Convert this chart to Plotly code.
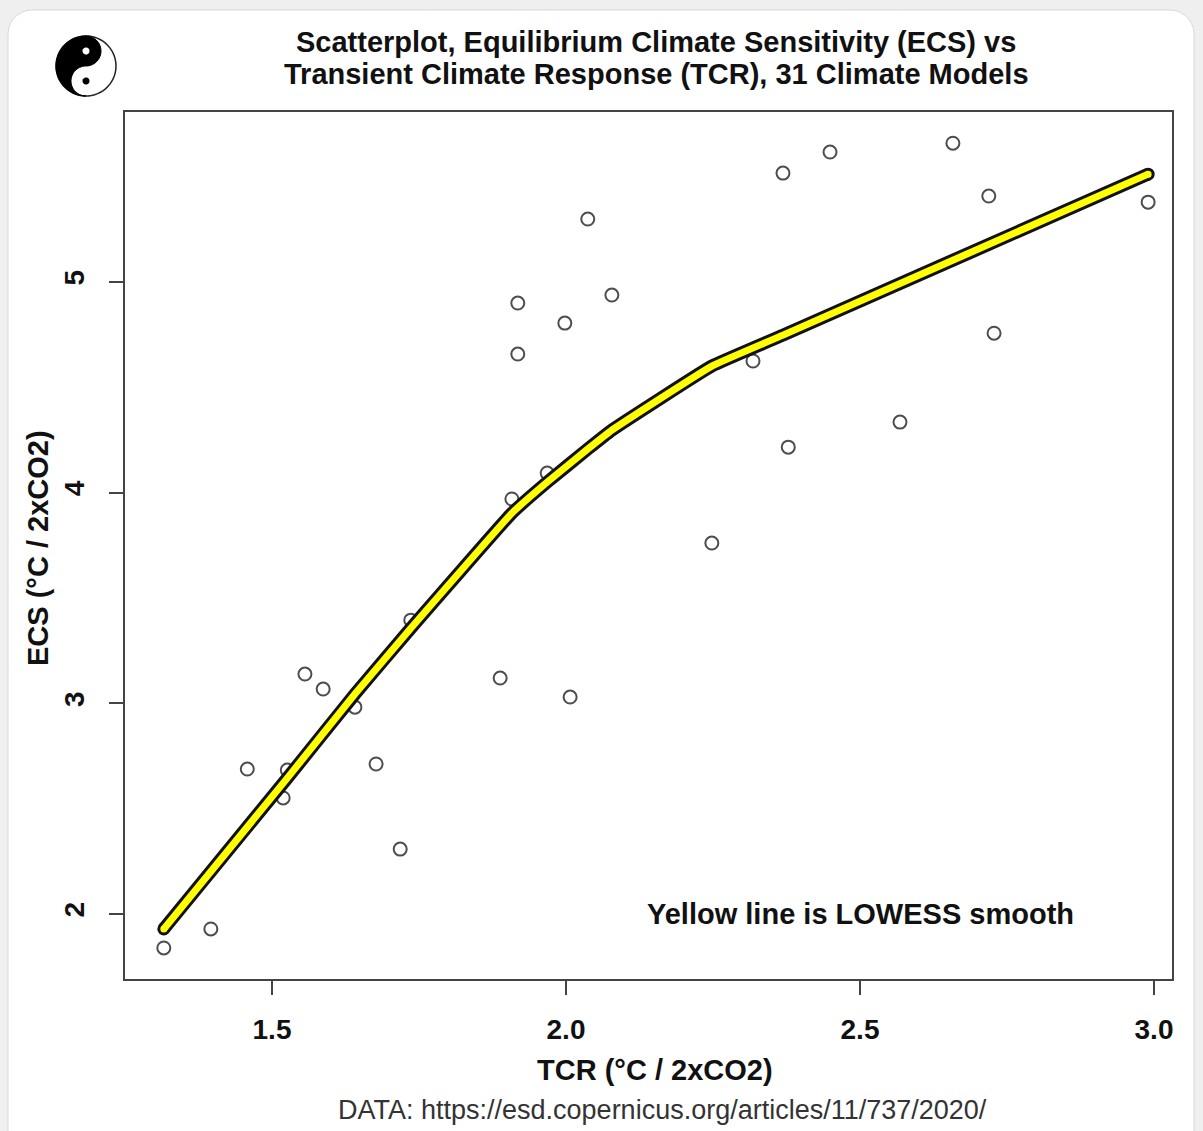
import numpy as np
import plotly.graph_objects as go

# ---- data ----
tcr = [1.316, 1.396, 1.458, 1.526, 1.519, 1.556, 1.587, 1.641, 1.677, 1.718,
       1.736, 1.888, 1.908, 1.918, 1.918, 1.968, 1.998, 2.007, 2.037, 2.078,
       2.248, 2.318, 2.369, 2.378, 2.449, 2.568, 2.658, 2.719, 2.728, 2.990]
ecs = [1.839, 1.929, 2.688, 2.683, 2.551, 3.139, 3.068, 2.982, 2.712, 2.308,
       3.395, 3.120, 3.970, 4.900, 4.658, 4.093, 4.805, 3.030, 5.299, 4.938,
       3.761, 4.625, 5.517, 4.216, 5.617, 4.335, 5.659, 5.408, 4.757, 5.379]

lowess_x = [1.316, 1.526, 1.641, 1.735, 1.908, 1.968, 2.037, 2.078, 2.248, 2.369, 2.990]
lowess_y = [1.929, 2.645, 3.044, 3.353, 3.903, 4.050, 4.207, 4.297, 4.601, 4.748, 5.512]

x_ticks = [1.5, 2.0, 2.5, 3.0]
x_ticklabels = ["1.5", "2.0", "2.5", "3.0"]
y_ticks = [2, 3, 4, 5]
y_ticklabels = ["2", "3", "4", "5"]

title_lines = ["Scatterplot, Equilibrium Climate Sensitivity (ECS) vs",
               "Transient Climate Response (TCR), 31 Climate Models"]
x_title = "TCR (°C / 2xCO2)"
y_title = "ECS (°C / 2xCO2)"
note = "Yellow line is LOWESS smooth"
source = "DATA: https://esd.copernicus.org/articles/11/737/2020/"

# ---- layout geometry (pixels) ----
W, H = 1203, 1131
L, R, T, B = 125, 1172, 112, 979
PW, PH = R - L, B - T

def fx(px):
    return (px - L) / PW

def fy(py):
    return (B - py) / PH

FONT = "Liberation Sans, Arial, Helvetica, sans-serif"
BOLD = 29

fig = go.Figure()

fig.add_trace(go.Scatter(
    x=tcr, y=ecs, mode="markers",
    marker=dict(symbol="circle-open", size=13, color="#4d4d4d",
                line=dict(width=2, color="#4d4d4d")),
    hoverinfo="x+y", showlegend=False))

# LOWESS line: black outline + yellow core, round caps via end markers
fig.add_trace(go.Scatter(
    x=lowess_x, y=lowess_y, mode="lines",
    line=dict(color="#111111", width=13, shape="spline", smoothing=0.3),
    hoverinfo="skip", showlegend=False))
fig.add_trace(go.Scatter(
    x=[lowess_x[0], lowess_x[-1]], y=[lowess_y[0], lowess_y[-1]], mode="markers",
    marker=dict(symbol="circle", size=13, color="#111111", line=dict(width=0)),
    hoverinfo="skip", showlegend=False))
fig.add_trace(go.Scatter(
    x=[lowess_x[0], lowess_x[-1]], y=[lowess_y[0], lowess_y[-1]], mode="markers",
    marker=dict(symbol="circle", size=7, color="#FFFF00", line=dict(width=0)),
    hoverinfo="skip", showlegend=False))
fig.add_trace(go.Scatter(
    x=lowess_x, y=lowess_y, mode="lines",
    line=dict(color="#FFFF00", width=7, shape="spline", smoothing=0.3),
    hoverinfo="skip", showlegend=False))

axis_common = dict(
    showgrid=False, zeroline=False, showline=True, mirror=True,
    linecolor="#444444", linewidth=2, ticks="outside", ticklen=14,
    tickwidth=1.5, tickcolor="#444444",
    tickfont=dict(family=FONT, size=28, color="#111111", weight="bold"),
)

fig.update_layout(
    width=W, height=H,
    margin=dict(l=L, r=W - R, t=T, b=H - B, pad=0),
    paper_bgcolor="#efefef", plot_bgcolor="white",
    xaxis=dict(range=[1.25, 3.0306], tickvals=x_ticks, ticktext=x_ticklabels,
               ticklabelstandoff=10, **axis_common),
    yaxis=dict(range=[1.6915, 5.807], tickvals=y_ticks, ticktext=y_ticklabels,
               tickangle=-90, ticklabelstandoff=14, **axis_common),
)

# white rounded card background
def rounded_rect_path(x0, y0, x1, y1, r):
    pts = []
    for cx, cy, a0 in [(x1 - r, y0 + r, -90), (x1 - r, y1 - r, 0),
                       (x0 + r, y1 - r, 90), (x0 + r, y0 + r, 180)]:
        for a in np.linspace(a0, a0 + 90, 8):
            t = np.radians(a)
            pts.append((cx + r * np.cos(t), cy + r * np.sin(t)))
    return "M " + " L ".join(f"{fx(px):.5f},{fy(py):.5f}" for px, py in pts) + " Z"

fig.add_shape(type="path", xref="paper", yref="paper",
              path=rounded_rect_path(8, 10, 1194, 1160, 24),
              fillcolor="white", line=dict(color="#d8d8d8", width=1), layer="below")

# yin-yang logo
cx, cy, rr = 86, 66, 30
def arc(cxp, cyp, r, a0, a1, n=30):
    return [(cxp + r * np.cos(np.radians(a)), cyp + r * np.sin(np.radians(a)))
            for a in np.linspace(a0, a1, n)]
def to_path(pts):
    return "M " + " L ".join(f"{fx(px):.5f},{fy(py):.5f}" for px, py in pts) + " Z"

black = arc(cx, cy, rr, -90, -270)
black += arc(cx, cy + rr / 2, rr / 2, 90, 270)
black += arc(cx, cy - rr / 2, rr / 2, 90, -90)
fig.add_shape(type="path", xref="paper", yref="paper", path=to_path(arc(cx, cy, rr, 0, 360, 60)),
              fillcolor="white", line=dict(color="#222222", width=1.5))
fig.add_shape(type="path", xref="paper", yref="paper", path=to_path(black),
              fillcolor="black", line=dict(color="black", width=1))
for (dx, dy, col) in [(cx, cy - rr / 2, "white"), (cx, cy + rr / 2, "black")]:
    fig.add_shape(type="path", xref="paper", yref="paper",
                  path=to_path(arc(dx, dy, 3.5, 0, 360, 20)),
                  fillcolor=col, line=dict(width=0))

# texts
for i, line in enumerate(title_lines):
    fig.add_annotation(x=fx(656), y=fy(42 + 32 * i), xref="paper", yref="paper",
                       text=line, showarrow=False, xanchor="center", yanchor="middle",
                       font=dict(family=FONT, size=BOLD, color="#111111", weight="bold"))

fig.add_annotation(x=fx(655), y=fy(1070), xref="paper", yref="paper", text=x_title,
                   showarrow=False, xanchor="center", yanchor="middle",
                   font=dict(family=FONT, size=BOLD, color="#111111", weight="bold"))
fig.add_annotation(x=fx(38), y=fy(548), xref="paper", yref="paper", text=y_title,
                   showarrow=False, xanchor="center", yanchor="middle", textangle=-90,
                   font=dict(family=FONT, size=BOLD, color="#111111", weight="bold"))
fig.add_annotation(x=2.5, y=2.0, xref="x", yref="y", text=note,
                   showarrow=False, xanchor="center", yanchor="middle",
                   font=dict(family=FONT, size=BOLD, color="#111111", weight="bold"))
fig.add_annotation(x=fx(662), y=fy(1110), xref="paper", yref="paper", text=source,
                   showarrow=False, xanchor="center", yanchor="middle",
                   font=dict(family=FONT, size=27, color="#333333"))

fig.write_html("out.html", config={"displayModeBar": False},
               post_script="document.body.style.margin='0';document.body.style.overflow='hidden';")
